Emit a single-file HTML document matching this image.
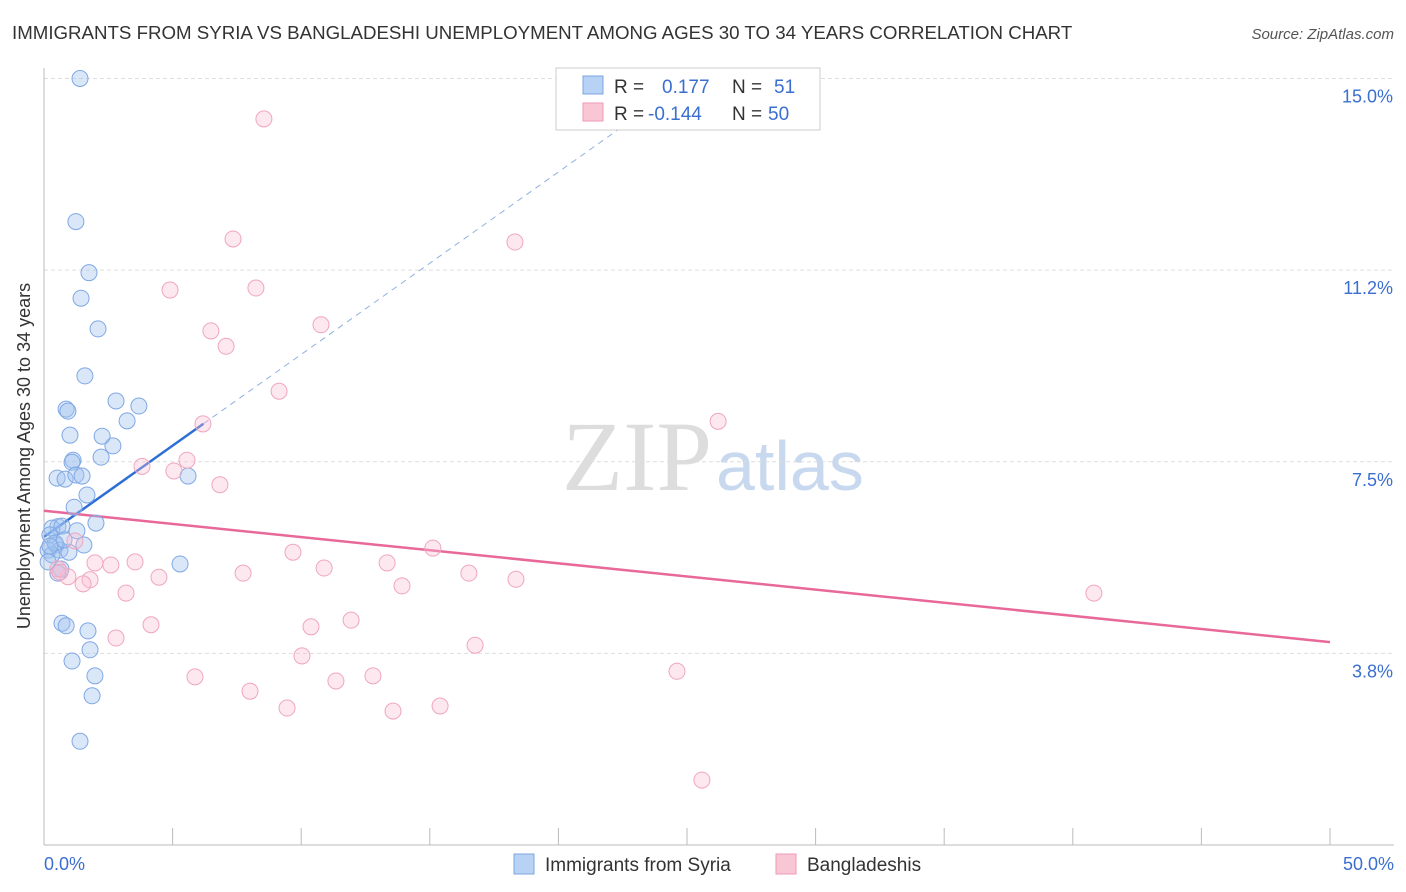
<!DOCTYPE html>
<html><head><meta charset="utf-8"><style>
body{margin:0;background:#fff;font-family:"Liberation Sans",sans-serif;}
svg{display:block}
</style></head><body>
<svg id="chart" width="1406" height="892" xmlns="http://www.w3.org/2000/svg">
<text x="12" y="39" font-size="18.7" fill="#333">IMMIGRANTS FROM SYRIA VS BANGLADESHI UNEMPLOYMENT AMONG AGES 30 TO 34 YEARS CORRELATION CHART</text>
<text x="1394" y="39" font-size="15" fill="#555" font-style="italic" text-anchor="end">Source: ZipAtlas.com</text>
<text x="712" y="490" font-size="100" fill="#ddd" text-anchor="end" font-family="Liberation Serif,serif">ZIP</text>
<text x="716" y="490" font-size="70" fill="#c8d8ee">atlas</text>
<g id="grid"></g><g id="axes"></g><g id="lines"></g><g id="pts"></g>
<text x="30" y="456" font-size="18" fill="#333" text-anchor="middle" transform="rotate(-90 30 456)">Unemployment Among Ages 30 to 34 years</text>
<g>
<rect x="556" y="68" width="264" height="62" fill="#fff" stroke="#ccc"/>
<rect x="583" y="76" width="20" height="18" fill="#b8d2f5" stroke="#7aa6e0"/>
<rect x="583" y="103" width="20" height="18" fill="#f9c6d6" stroke="#ee9ab4"/>
<text x="614" y="93" font-size="19" fill="#333">R = <tspan fill="#3a6fd0" x="662">0.177</tspan><tspan x="732" fill="#333">N = </tspan><tspan fill="#3a6fd0" x="774">51</tspan></text>
<text x="614" y="120" font-size="19" fill="#333">R = <tspan fill="#3a6fd0" x="648">-0.144</tspan><tspan x="732" fill="#333">N = </tspan><tspan fill="#3a6fd0" x="768">50</tspan></text>
</g>
<g>
<rect x="514" y="854" width="20" height="20" fill="#b8d2f5" stroke="#7aa6e0"/>
<text x="545" y="871" font-size="19" fill="#333">Immigrants from Syria</text>
<rect x="776" y="854" width="20" height="20" fill="#f9c6d6" stroke="#ee9ab4"/>
<text x="807" y="871" font-size="19" fill="#333">Bangladeshis</text>
</g>
</svg>
<script>
const NS="http://www.w3.org/2000/svg";
const yTicks=[3.75,7.5,11.25,15];
const yTickLabels=["3.8%","7.5%","11.2%","15.0%"];
const xLabels=["0.0%","50.0%"];
const syriaX=[1.4,1.24,1.75,1.44,2.1,1.59,0.86,0.93,2.8,3.69,1.01,3.23,2.68,2.26,1.13,1.09,2.22,0.51,0.82,1.24,1.48,5.6,1.67,1.17,2.02,1.28,0.54,0.31,0.7,0.23,0.47,0.16,0.62,1.55,0.97,0.31,0.16,0.66,0.54,5.29,0.7,0.86,1.71,1.79,1.09,1.98,1.87,1.4,0.43,0.78,0.23];
const syriaY=[15.0,12.2,11.2,10.7,10.1,9.18,8.53,8.49,8.69,8.59,8.02,8.3,7.81,8.0,7.53,7.49,7.59,7.18,7.16,7.24,7.22,7.22,6.85,6.61,6.3,6.15,6.23,6.2,6.24,6.07,5.87,5.77,5.77,5.87,5.73,5.68,5.54,5.4,5.32,5.5,4.34,4.29,4.19,3.82,3.6,3.31,2.92,2.03,5.91,5.97,5.85];
const bangX=[8.55,7.35,18.31,4.9,8.24,10.77,6.49,7.08,9.14,26.21,6.18,5.56,3.81,5.05,6.84,1.2,9.68,15.12,3.54,13.34,2.6,10.89,7.74,16.52,4.47,18.35,13.92,1.79,1.52,0.93,0.54,3.19,40.82,11.94,4.16,10.38,2.8,16.76,10.03,24.61,5.87,11.35,12.79,8.01,9.45,15.4,13.57,25.58,0.62,1.98];
const bangY=[14.21,11.86,11.8,10.86,10.9,10.18,10.06,9.76,8.88,8.29,8.24,7.53,7.41,7.32,7.05,5.95,5.73,5.81,5.54,5.52,5.48,5.42,5.32,5.32,5.24,5.2,5.07,5.19,5.11,5.25,5.4,4.93,4.93,4.4,4.31,4.27,4.05,3.91,3.7,3.4,3.29,3.21,3.31,3.01,2.68,2.72,2.62,1.27,5.34,5.52];
const syriaFit=[6.03,0.357]; const bangFit=[6.54,-0.0514];
const X=v=>44+v*25.72, Y=v=>845-v*51.1;
function mk(tag,attrs,parent,name,inter){const e=document.createElementNS(NS,tag);for(const k in attrs)e.setAttribute(k,attrs[k]);


document.getElementById(parent).appendChild(e);return e;}
yTicks.forEach((t,i)=>{mk('line',{x1:44,x2:1394,y1:Y(t),y2:Y(t),stroke:'#ddd','stroke-dasharray':'4,3'},'grid','y-gridline','false');
const tx=mk('text',{x:1393,y:Y(t)+24,'font-size':18,fill:'#3a6fd0','text-anchor':'end'},'grid','y-tick-label','false');tx.textContent=yTickLabels[i];});
mk('line',{x1:44,x2:44,y1:68,y2:845,stroke:'#bbb'},'axes','y-axis','false');
mk('line',{x1:44,x2:1394,y1:845,y2:845,stroke:'#bbb'},'axes','x-axis','false');
for(let i=0;i<=10;i++){mk('line',{x1:X(i*5),x2:X(i*5),y1:828,y2:845,stroke:'#bbb'},'axes','x-tick','false');}
let t=mk('text',{x:44,y:870,'font-size':18,fill:'#3a6fd0'},'axes','x-tick-label','false');t.textContent=xLabels[0];
t=mk('text',{x:1394,y:870,'font-size':18,fill:'#3a6fd0','text-anchor':'end'},'axes','x-tick-label','false');t.textContent=xLabels[1];
syriaX.forEach((x,i)=>mk('circle',{cx:X(x),cy:Y(syriaY[i]),r:8,fill:'rgba(160,195,240,0.4)',stroke:'#80a8e4','stroke-width':1},'pts','syria-point','true'));
bangX.forEach((x,i)=>mk('circle',{cx:X(x),cy:Y(bangY[i]),r:8,fill:'rgba(248,190,210,0.35)',stroke:'#f0a6be','stroke-width':1},'pts','bangladeshi-point','true'));
mk('line',{x1:X(0),y1:Y(syriaFit[0]),x2:X(6.2),y2:Y(syriaFit[0]+syriaFit[1]*6.2),stroke:'#2e6fd6','stroke-width':2.5},'lines','syria-trend-line','false');
mk('line',{x1:X(6.2),y1:Y(syriaFit[0]+syriaFit[1]*6.2),x2:X(22.5),y2:Y(syriaFit[0]+syriaFit[1]*22.5),stroke:'#8fb0e0','stroke-width':1,'stroke-dasharray':'6,5'},'lines','syria-trend-extension','false');
mk('line',{x1:X(0),y1:Y(bangFit[0]),x2:X(50),y2:Y(bangFit[0]+bangFit[1]*50),stroke:'#e8689a','stroke-width':2.5},'lines','bangladeshi-trend-line','false');
</script>
</body></html>
